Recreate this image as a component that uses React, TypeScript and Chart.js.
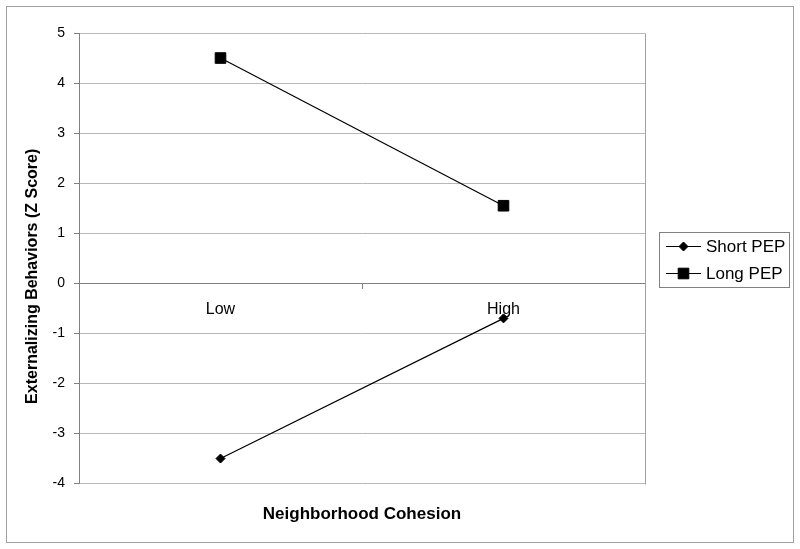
import React, { useEffect, useRef } from 'react';
import { Chart, registerables } from 'chart.js';

Chart.register(...registerables);

const categories = ['Low', 'High'];
const seriesLabels = ['Short PEP', 'Long PEP'];
const shortPEP = [-3.5, -0.7];
const longPEP = [4.5, 1.55];
const yMin = -4;
const yMax = 5;
const yStep = 1;
const xTitle = 'Neighborhood Cohesion';
const yTitle = 'Externalizing Behaviors (Z Score)';

const FONT = "'Liberation Sans', Arial, Helvetica, sans-serif";

const framePlugin = {
  id: 'frame',
  beforeDraw(chart: any) {
    const { ctx, width, height } = chart;
    ctx.save();
    ctx.fillStyle = '#ffffff';
    ctx.fillRect(0, 0, width, height);
    ctx.strokeStyle = '#a0a0a0';
    ctx.lineWidth = 1;
    ctx.strokeRect(6.5, 6.5, width - 13, height - 13);
    ctx.restore();
  },
  afterDraw(chart: any) {
    const { ctx, chartArea } = chart;
    ctx.save();
    // right border of plot area
    ctx.strokeStyle = '#a0a0a0';
    ctx.lineWidth = 1;
    const rx = Math.round(chartArea.right) + 0.5;
    ctx.beginPath();
    ctx.moveTo(rx, Math.round(chartArea.top) + 0.5);
    ctx.lineTo(rx, Math.round(chartArea.bottom) + 0.5);
    ctx.stroke();

    // y axis title
    ctx.fillStyle = '#000';
    ctx.font = `bold 16px ${FONT}`;
    ctx.textAlign = 'center';
    ctx.textBaseline = 'middle';
    ctx.translate(33, (chartArea.top + chartArea.bottom) / 2 + 18);
    ctx.rotate(-Math.PI / 2);
    ctx.fillText(yTitle, 0, 0);
    ctx.restore();

    // legend
    ctx.save();
    const bx = Math.round(chartArea.right) + 14.5;
    const by = 232.5;
    const bw = 130;
    const bh = 55;
    ctx.strokeStyle = '#808080';
    ctx.lineWidth = 1;
    ctx.strokeRect(bx, by, bw, bh);
    const rows = [246, 273];
    chart.data.datasets.forEach((ds: any, i: number) => {
      const cy = rows[i];
      const x0 = bx + 6.5;
      const x1 = x0 + 35;
      const cx = (x0 + x1) / 2;
      ctx.strokeStyle = '#000';
      ctx.lineWidth = 1;
      ctx.beginPath();
      ctx.moveTo(x0, cy + 0.5);
      ctx.lineTo(x1, cy + 0.5);
      ctx.stroke();
      ctx.fillStyle = '#000';
      ctx.beginPath();
      if (ds.pointStyle === 'rectRot') {
        const r = ds.pointRadius;
        ctx.moveTo(cx, cy + 0.5 - r);
        ctx.lineTo(cx + r, cy + 0.5);
        ctx.lineTo(cx, cy + 0.5 + r);
        ctx.lineTo(cx - r, cy + 0.5);
        ctx.closePath();
      } else {
        const s = ds.pointRadius * Math.SQRT1_2;
        ctx.rect(cx - s, cy + 0.5 - s, 2 * s, 2 * s);
      }
      ctx.fill();
      ctx.stroke();
      ctx.font = `17px ${FONT}`;
      ctx.textAlign = 'left';
      ctx.textBaseline = 'middle';
      ctx.fillText(ds.label, x1 + 5, cy + 1);
    });
    ctx.restore();
  },
};

export default function App() {
  const canvasRef = useRef<HTMLCanvasElement | null>(null);

  useEffect(() => {
    const canvas = canvasRef.current;
    if (!canvas) return;
    const chart = new Chart(canvas, {
      type: 'line',
      data: {
        labels: categories,
        datasets: [
          {
            label: seriesLabels[0],
            data: shortPEP,
            borderColor: '#000',
            backgroundColor: '#000',
            borderWidth: 1.2,
            pointStyle: 'rectRot',
            pointRadius: 4.5,
            pointBorderWidth: 1,
            pointBackgroundColor: '#000',
            pointBorderColor: '#000',
            fill: false,
            tension: 0,
          },
          {
            label: seriesLabels[1],
            data: longPEP,
            borderColor: '#000',
            backgroundColor: '#000',
            borderWidth: 1.2,
            pointStyle: 'rect',
            pointRadius: 7.5,
            pointBorderWidth: 1,
            pointBackgroundColor: '#000',
            pointBorderColor: '#000',
            fill: false,
            tension: 0,
          },
        ],
      },
      options: {
        responsive: false,
        animation: false,
        layout: { padding: { top: 33, right: 155, bottom: 24, left: 0 } },
        plugins: {
          legend: { display: false },
          tooltip: { enabled: false },
          title: {
            display: true,
            text: xTitle,
            position: 'bottom',
            fullSize: false,
            color: '#000',
            font: { family: FONT, size: 17, weight: 'bold' },
            padding: { top: 21, bottom: 0 },
          },
        },
        scales: {
          x: {
            type: 'category',
            position: { y: 0 },
            offset: true,
            grid: {
              display: true,
              offset: true,
              drawOnChartArea: false,
              drawTicks: true,
              tickLength: 5,
              color: '#808080',
            },
            border: { display: true, color: '#808080' },
            ticks: {
              color: '#000',
              font: { family: FONT, size: 16 },
              padding: 12,
              maxRotation: 0,
            },
          },
          y: {
            min: yMin,
            max: yMax,
            ticks: {
              stepSize: yStep,
              color: '#000',
              font: { family: FONT, size: 14 },
              padding: 9,
            },
            grid: { color: '#b8b8b8', tickColor: '#808080', tickLength: 5 },
            border: { display: true, color: '#808080' },
            afterFit(scale: any) {
              scale.width = 79;
            },
          },
        },
      },
      plugins: [framePlugin],
    } as any);
    return () => chart.destroy();
  }, []);

  return (
    <div style={{ position: 'absolute', left: 0, top: 0, width: 800, height: 549 }}>
      <canvas ref={canvasRef} width={800} height={549} />
    </div>
  );
}
